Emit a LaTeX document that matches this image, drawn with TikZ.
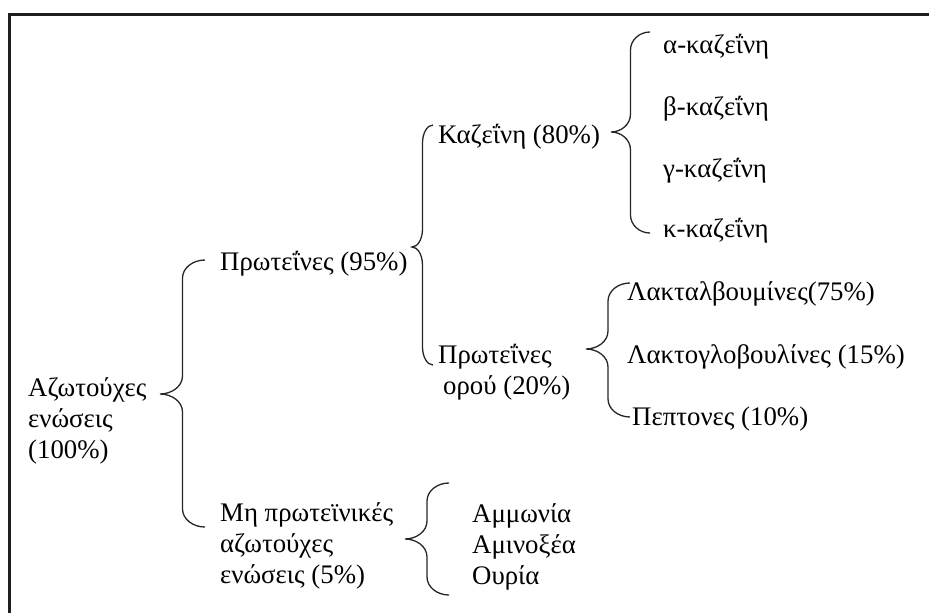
\documentclass[tikz,border=0pt]{standalone}
\usepackage{fontspec}
\setmainfont{Liberation Serif}
\usetikzlibrary{calc}

% Curly brace opening to the right: #1 = tip, #2 = upper end, #3 = lower end
\newcommand{\curlybr}[3]{%
  \draw[bracestyle] let \p1=(#1), \p2=(#2), \p3=(#3),
      \n1={(\x1+\x2)/2}, \n2={(\x2-\x1)/2}, \n3={18pt} in
    (\x2,\y2) .. controls (\n1+0.45*\n2,\y2) and (\n1,\y2-0.45*\n3) .. (\n1,\y2-\n3)
    -- (\n1,\y1+\n3) .. controls (\n1,\y1+0.4*\n3) and (\n1-0.5*\n2,\y1) .. (\x1,\y1)
    .. controls (\n1-0.5*\n2,\y1) and (\n1,\y1-0.4*\n3) .. (\n1,\y1-\n3)
    -- (\n1,\y3+\n3) .. controls (\n1,\y3+0.45*\n3) and (\n1+0.45*\n2,\y3) .. (\x2,\y3);
}

\begin{document}
\begin{tikzpicture}[x=1pt,y=-1pt,
  lbl/.style={anchor=base west, inner sep=0pt, align=left,
              font=\fontsize{26.8}{30.8}\selectfont},
  bracestyle/.style={draw=black!85, line width=1.3pt},
  framestyle/.style={draw=black!88, line width=2.6pt}]
\useasboundingbox (0,0) rectangle (929,613);

% frame (only the left and top sides fall inside the page)
\draw[framestyle] (9.5,700) |- (1000,14.7);

% labels (multi-line labels are placed by the baseline of their last line)
\node[lbl] (root)    at (28,458)  {Αζωτούχες\\ενώσεις\\(100\%)};
\node[lbl] (prot)    at (220,270) {Πρωτεΐνες (95\%)};
\node[lbl] (nonprot) at (220,583) {Μη πρωτεϊνικές\\αζωτούχες\\ενώσεις (5\%)};
\node[lbl] (casein)  at (438,143) {Καζεΐνη (80\%)};
\node[lbl] (whey)    at (438,394) {Πρωτεΐνες\\\hspace{5pt}ορού (20\%)};
\node[lbl] (alpha)   at (663,53)  {α-καζεΐνη};
\node[lbl] (beta)    at (663,115) {β-καζεΐνη};
\node[lbl] (gamma)   at (663,177) {γ-καζεΐνη};
\node[lbl] (kappa)   at (663,237) {κ-καζεΐνη};
\node[lbl] (lalb)    at (627,300) {Λακταλβουμίνες(75\%)};
\node[lbl] (lglob)   at (627,363) {Λακτογλοβουλίνες (15\%)};
\node[lbl] (pept)    at (632,425) {Πεπτονες (10\%)};
\node[lbl] (nitro)   at (472,584) {Αμμωνία\\Αμινοξέα\\Ουρία};

% brace end points
\coordinate (b1tip) at (160,394); \coordinate (b1top) at (205,260); \coordinate (b1bot) at (205,527);
\coordinate (b2tip) at (412,247); \coordinate (b2top) at (433,125); \coordinate (b2bot) at (433,365);
\coordinate (b3tip) at (611,132); \coordinate (b3top) at (650,32);  \coordinate (b3bot) at (650,233);
\coordinate (b4tip) at (586,349); \coordinate (b4top) at (630,283); \coordinate (b4bot) at (630,417);
\coordinate (b5tip) at (405,539); \coordinate (b5top) at (449,483); \coordinate (b5bot) at (449,595);

\curlybr{b1tip}{b1top}{b1bot}
\curlybr{b2tip}{b2top}{b2bot}
\curlybr{b3tip}{b3top}{b3bot}
\curlybr{b4tip}{b4top}{b4bot}
\curlybr{b5tip}{b5top}{b5bot}
\end{tikzpicture}
\end{document}
